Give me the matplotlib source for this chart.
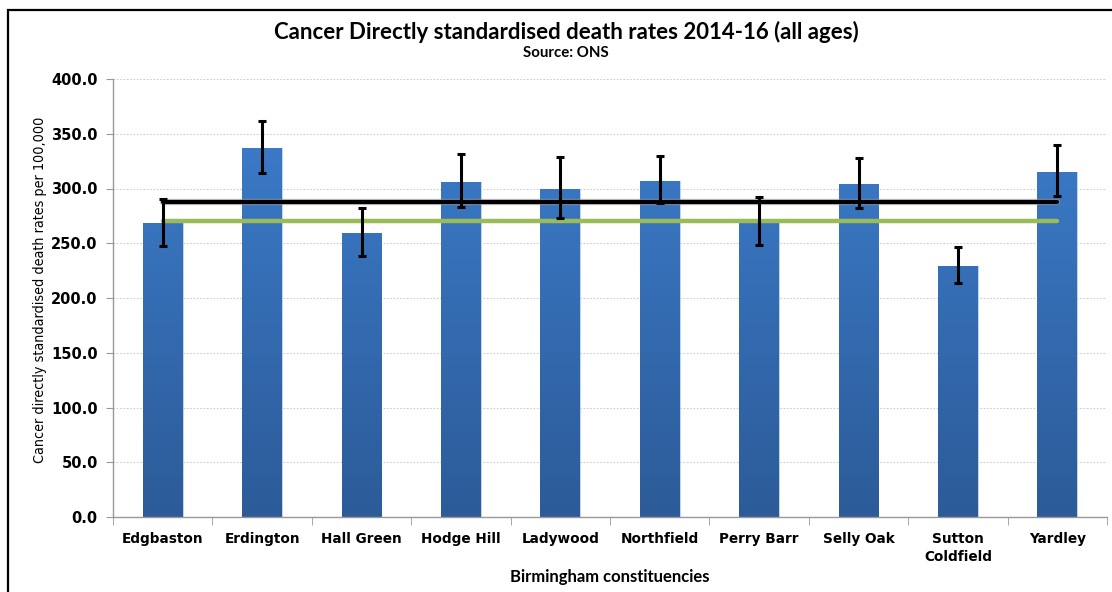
import numpy as np
import matplotlib.pyplot as plt
from matplotlib.patches import Rectangle
from matplotlib.colors import LinearSegmentedColormap

# data
constituencies = ['Edgbaston', 'Erdington', 'Hall Green', 'Hodge Hill', 'Ladywood',
                  'Northfield', 'Perry Barr', 'Selly Oak', 'Sutton\nColdfield', 'Yardley']
rates = [268.2, 336.7, 259.6, 306.0, 299.5, 306.8, 269.7, 303.8, 229.5, 315.3]
ci_upper = [290.4, 361.9, 281.9, 331.8, 328.5, 329.7, 292.5, 327.6, 246.8, 339.7]
ci_lower = [247.8, 313.8, 238.6, 282.8, 273.1, 286.5, 248.4, 282.2, 213.4, 293.4]
england_rate = 288.0
birmingham_rate = 270.6
yticks = [0, 50, 100, 150, 200, 250, 300, 350, 400]

fig = plt.figure(figsize=(11.12, 5.92), dpi=100)
ax = fig.add_axes([113 / 1112, 1 - 517 / 592, (1107 - 113) / 1112, (517 - 79) / 592])

x = np.arange(len(constituencies))
bar_w = 0.4

# gradient fill for the bars
cmap = LinearSegmentedColormap.from_list('bluegrad', ['#2c5b98', '#3d7fcf'])
grad = np.linspace(0, 1, 256).reshape(-1, 1)
bars = ax.bar(x, rates, width=bar_w, color='none', edgecolor='#b8cbe4', linewidth=0.6, zorder=2)
for b in bars:
    x0 = b.get_x()
    img = ax.imshow(grad, cmap=cmap, origin='lower', aspect='auto',
                    extent=[x0, x0 + b.get_width(), 0, 400], zorder=2)
    img.set_clip_path(b)

# England / Birmingham reference lines (with light shadow)
ax.plot([x[0], x[-1]], [england_rate, england_rate], color='#9a9a9a', lw=4.6, alpha=0.6,
        solid_capstyle='round', zorder=3)
ax.plot([x[0], x[-1]], [england_rate, england_rate], color='black', lw=3.0,
        solid_capstyle='round', zorder=3)
ax.plot([x[0], x[-1]], [birmingham_rate, birmingham_rate], color='#9bbb59', lw=3.2,
        solid_capstyle='round', zorder=3)

# confidence intervals
lo = np.array(rates) - np.array(ci_lower)
hi = np.array(ci_upper) - np.array(rates)
ax.errorbar(x, rates, yerr=[lo, hi], fmt='none', ecolor='black', elinewidth=2.2,
            capsize=2.8, capthick=2.2, zorder=4)

ax.set_xlim(-0.5, len(constituencies) - 0.5)
ax.set_ylim(0, 400)
ax.set_yticks(yticks)
ax.set_yticklabels([f'{v:.1f}' for v in yticks], fontsize=10.5, fontweight='bold',
                   family='DejaVu Sans')
ax.yaxis.grid(True, color='#cccccc', linestyle=(0, (1.5, 1.5)), linewidth=0.8, zorder=0)
ax.set_axisbelow(True)
ax.tick_params(axis='y', length=5, color='#999999', pad=6)

ax.set_xticks(x)
ax.set_xticklabels(constituencies, fontsize=9.8, fontweight='bold', family='DejaVu Sans',
                   linespacing=1.3)
ax.set_xticks(np.arange(-0.5, len(constituencies)), minor=True)
ax.tick_params(axis='x', which='major', length=0, pad=11)
ax.tick_params(axis='x', which='minor', length=6, color='#999999')

for side in ['top', 'right']:
    ax.spines[side].set_visible(False)
for side in ['left', 'bottom']:
    ax.spines[side].set_color('#999999')
    ax.spines[side].set_linewidth(1.0)

fig.text(40 / 1112, 1 - 290 / 592, 'Cancer directly standardised death rates per 100,000',
         rotation=90, ha='center', va='center', fontsize=10.3, family='DejaVu Sans',
         stretch='condensed', fontweight='medium')
fig.text(610 / 1112, 1 - 577 / 592, 'Birmingham constituencies', ha='center', va='center',
         fontsize=12, fontweight='bold', family='Lato')

fig.text(566 / 1112, 1 - 32 / 592, 'Cancer Directly standardised death rates 2014-16 (all ages)',
         ha='center', va='center', fontsize=16, fontweight='bold', family='Lato')
fig.text(566 / 1112, 1 - 53 / 592, 'Source: ONS', ha='center', va='center', fontsize=10.8,
         fontweight='bold', family='Lato')

# outer chart border
fig.patches.append(Rectangle((8 / 1112, -0.05), 1.2, 1 - 10 / 592 + 0.05,
                             transform=fig.transFigure, fill=False, edgecolor='black',
                             linewidth=1.6))

fig.savefig('out.png', dpi=100)
